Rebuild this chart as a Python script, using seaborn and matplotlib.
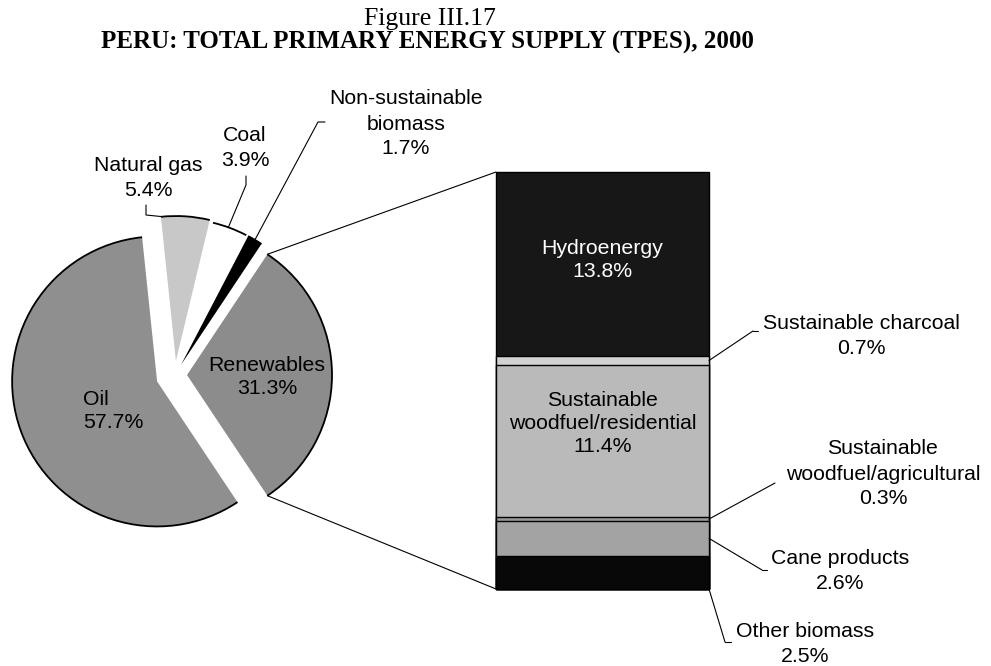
import matplotlib
matplotlib.use('Agg')
import matplotlib.pyplot as plt
from matplotlib.patches import Arc, ConnectionPatch
import numpy as np
import pandas as pd
import seaborn as sns

# Pie: shares of total primary energy supply (%), counter-clockwise from Renewables
pie_labels = ['Renewables', 'Non-sustainable\nbiomass', 'Coal', 'Natural gas', 'Oil']
pie_values = [31.3, 1.7, 3.9, 5.4, 57.7]

# Breakdown of the Renewables slice, bottom to top
bar_labels = ['Other biomass', 'Cane products', 'Sustainable\nwoodfuel/agricultural',
              'Sustainable\nwoodfuel/residential', 'Sustainable charcoal', 'Hydroenergy']
bar_values = [2.5, 2.6, 0.3, 11.4, 0.7, 13.8]

pie_colors = ['#8c8c8c', '#000000', '#ffffff', '#c8c8c8', '#8f8f8f']
bar_colors = ['#080808', '#a3a3a3', '#9a9a9a', '#bababa', '#d2d2d2', '#171717']
pie_explode = [12, 12, 12, 14, 19]

W, H = 991, 666


def iy(y):
    # image row -> y in the pixel-unit main axes (y up)
    return H - y


def arc_point(w, frac):
    a = np.deg2rad(w.theta1 + frac * (w.theta2 - w.theta1))
    return w.center[0] + w.r * np.cos(a), w.center[1] + w.r * np.sin(a)


sns.set_theme(style='white')
plt.rcParams['font.family'] = ['Liberation Sans', 'DejaVu Sans']
plt.rcParams['text.color'] = 'black'
FS = 15.3
LS_IN = 1.27   # labels inside the marks
LS_OUT = 1.4   # labels outside with leader lines

fig = plt.figure(figsize=(W / 100, H / 100), dpi=100)
ax = fig.add_axes([0, 0, 1, 1])

start = -pie_values[0] / 100 * 360 / 2
wedges, _ = ax.pie(pie_values, colors=pie_colors, explode=pie_explode, radius=145,
                   center=(175, iy(375)), startangle=start, counterclock=True,
                   wedgeprops=dict(linewidth=0), frame=True)
ax.set_xlim(0, W)
ax.set_ylim(0, H)
ax.set_axis_off()

# outline only the curved edge of every slice
for w in wedges:
    ax.add_patch(Arc(w.center, 2 * w.r, 2 * w.r, theta1=w.theta1, theta2=w.theta2,
                     color='black', lw=1.3))

def lab(i):
    return f'{pie_labels[i]}\n{pie_values[i]}%'

# labels inside the pie
ax.text(83, iy(411), lab(4), ha='left', va='center', fontsize=FS, linespacing=LS_IN)
ax.text(267, iy(377), lab(0), ha='center', va='center', fontsize=FS, linespacing=LS_IN)

# labels outside the pie with leader lines
ax.text(148, iy(178), lab(3), ha='center', va='center', fontsize=FS, linespacing=LS_OUT)
px, py = arc_point(wedges[3], 0.97)
ax.plot([146, 146, px], [iy(205), iy(215), py], color='black', lw=0.8)

ax.text(245, iy(148), lab(2), ha='center', va='center', fontsize=FS, linespacing=LS_OUT)
px, py = arc_point(wedges[2], 0.55)
ax.plot([246, 246, px], [iy(176), iy(185), py], color='black', lw=0.8)

ax.text(406, iy(124), lab(1), ha='center', va='center', fontsize=FS, linespacing=LS_OUT)
px, py = arc_point(wedges[1], 0.5)
ax.plot([325, 318, px], [iy(122), iy(122), py], color='black', lw=0.8)

# stacked bar for the Renewables breakdown
bax = fig.add_axes([496 / W, (H - 589) / H, 213 / W, 417 / H])
cum = np.cumsum(bar_values)
mids = cum - np.array(bar_values) / 2
df = pd.DataFrame({'group': 'Renewables', 'segment': bar_labels, 'top': cum})
sns.barplot(data=df, x='group', y='top', hue='segment', hue_order=bar_labels[::-1],
            palette=dict(zip(bar_labels, bar_colors)), dodge=False, width=1,
            saturation=1, edgecolor='black', linewidth=1.0, legend=False, ax=bax)
bax.set_xlim(-0.5, 0.5)
bax.set_ylim(0, cum[-1])
bax.set_axis_off()
for p in bax.patches:
    p.set_clip_on(False)

bax.text(0, mids[5] + 0.3, f'{bar_labels[5]}\n{bar_values[5]}%', color='white',
         ha='center', va='center', fontsize=FS, linespacing=LS_IN)
bax.text(0, mids[3] + 1.3, f'{bar_labels[3]}\n{bar_values[3]}%', color='black',
         ha='center', va='center', fontsize=FS, linespacing=LS_IN)

# connectors from the Renewables slice to the bar
r = wedges[0]
for frac, yb in [(1, cum[-1]), (0, 0)]:
    con = ConnectionPatch(xyA=arc_point(r, frac), coordsA=ax.transData,
                          xyB=(-0.5, yb), coordsB=bax.transData, color='black', lw=0.8)
    fig.add_artist(con)

# labels to the right of the bar
right = [
    (4, mids[4], (753, 331), (758, 331), (861, 336)),
    (2, mids[2], (775, 483), None, (883, 474)),
    (1, mids[1], (762, 570), (767, 570), (840, 571)),
    (0, 0, (725, 642), (731, 642), (805, 644)),
]
for i, yb, elbow, tail, txt in right:
    con = ConnectionPatch(xyA=(0.5, yb), coordsA=bax.transData,
                          xyB=(elbow[0], iy(elbow[1])), coordsB=ax.transData,
                          color='black', lw=0.8)
    fig.add_artist(con)
    if tail:
        ax.plot([elbow[0], tail[0]], [iy(elbow[1]), iy(tail[1])], color='black', lw=0.8)
    ax.text(txt[0], iy(txt[1]), f'{bar_labels[i]}\n{bar_values[i]}%',
            ha='center', va='center', fontsize=FS, linespacing=LS_OUT)

fig.text(430 / W, 1 - 19 / H, 'Figure III.17', family='Liberation Serif',
         fontsize=18.5, ha='center', va='center')
fig.text(427 / W, 1 - 42 / H, 'PERU: TOTAL PRIMARY ENERGY SUPPLY (TPES), 2000',
         family='Liberation Serif', fontweight='bold', fontsize=18,
         ha='center', va='center')

fig.savefig('out.png', dpi=100)
